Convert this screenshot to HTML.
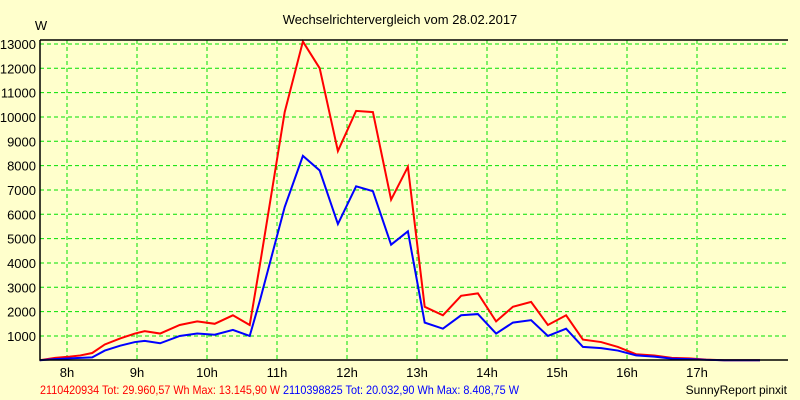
<!DOCTYPE html>
<html><head><meta charset="utf-8"><style>
body{margin:0;background:#ffffcc;}
svg{display:block;font-family:"Liberation Sans",sans-serif;}
</style></head><body>
<svg id="chart" width="800" height="400">
<rect x="0" y="0" width="800" height="400" fill="#ffffcc"/>
<text x="400" y="24" font-size="13" text-anchor="middle">Wechselrichtervergleich vom 28.02.2017</text>
<text x="41" y="30" font-size="13" text-anchor="middle">W</text>
<g id="grid"></g><g id="series"></g><g id="axes"></g>
<text x="40" y="394" font-size="12" fill="#ff0000" textLength="240" lengthAdjust="spacingAndGlyphs">2110420934 Tot: 29.960,57 Wh Max: 13.145,90 W</text>
<text x="283" y="394" font-size="12" fill="#0000ff" textLength="236" lengthAdjust="spacingAndGlyphs">2110398825 Tot: 20.032,90 Wh Max: 8.408,75 W</text>
<text x="787" y="394" font-size="12" text-anchor="end">SunnyReport pinxit</text>
</svg>
<script>
const times=[7.61,7.83,8.04,8.19,8.36,8.54,8.76,8.97,9.11,9.33,9.61,9.86,10.11,10.37,10.61,10.76,11.11,11.37,11.61,11.87,12.13,12.37,12.63,12.87,13.11,13.37,13.63,13.87,14.13,14.37,14.63,14.87,15.13,15.37,15.63,15.87,16.13,16.39,16.64,16.89,17.13,17.39,17.9];
const redValues=[0,100,150,200,300,650,900,1100,1200,1100,1450,1600,1500,1850,1450,4000,10200,13100,12000,8600,10250,10200,6600,7950,2200,1850,2650,2750,1600,2200,2400,1450,1850,850,750,550,250,200,100,80,30,0,0];
const blueValues=[0,50,80,100,120,400,600,750,800,700,1000,1100,1050,1250,1000,2500,6300,8400,7800,5600,7150,6950,4750,5300,1550,1300,1850,1900,1100,1550,1650,1000,1300,550,500,400,200,150,70,50,20,0,0];
const yTicks=[1000,2000,3000,4000,5000,6000,7000,8000,9000,10000,11000,12000,13000];
const xTicks=[8,9,10,11,12,13,14,15,16,17];
const NS="http://www.w3.org/2000/svg";
const L=40,R=788,T=40,B=360;
const xs=h=>67+(h-8)*70;
const ys=v=>360.3-v*0.024333;
function mk(tag,attrs,parent){const e=document.createElementNS(NS,tag);for(const k in attrs)e.setAttribute(k,attrs[k]);document.getElementById(parent).appendChild(e);return e;}
yTicks.forEach(v=>{
 const g=mk('line',{x1:L,x2:R,y1:ys(v),y2:ys(v),stroke:'#00e000','stroke-dasharray':'4,3'},'grid');
 
 
 const t=mk('text',{x:36,y:ys(v)+5,'font-size':13,'text-anchor':'end'},'axes');
 t.textContent=v;
 
 
});
xTicks.forEach(h=>{
 const g=mk('line',{x1:xs(h),x2:xs(h),y1:T,y2:B,stroke:'#00e000','stroke-dasharray':'4,3'},'grid');
 
 
 const t=mk('text',{x:xs(h),y:377,'font-size':13,'text-anchor':'middle'},'axes');
 t.textContent=h+'h';
 
 
});
const ax=mk('path',{d:`M${L},${T}H${R}M${L},${T}V${B}H${R}`,stroke:'#000',fill:'none','stroke-width':1.5},'axes');


function line(vals,color,name){
 const p=mk('polyline',{points:times.map((t,i)=>xs(t)+','+ys(vals[i])).join(' '),stroke:color,fill:'none','stroke-width':2},'series');
 
 
}
line(redValues,'#ff0000','series-red-line');
line(blueValues,'#0000ff','series-blue-line');
</script>
</body></html>
